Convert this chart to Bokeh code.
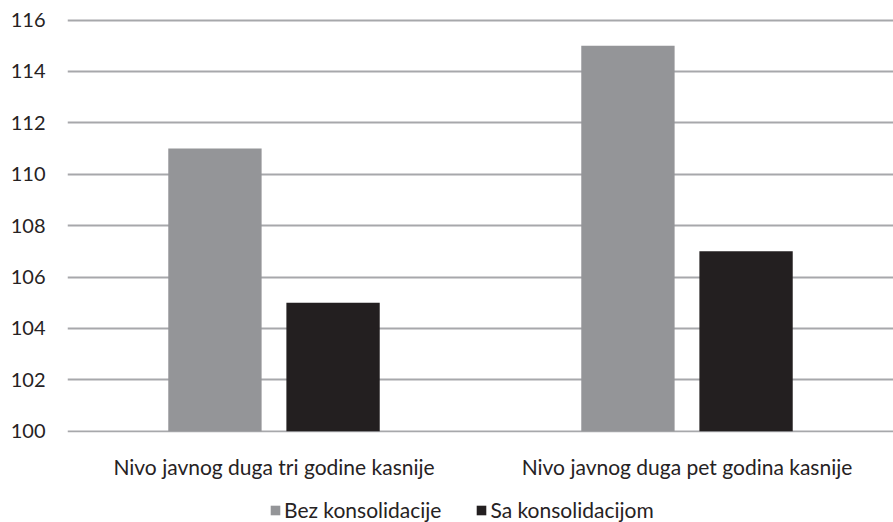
from bokeh.plotting import figure
from bokeh.models import FactorRange, Range1d, FixedTicker, Legend, LegendItem, ColumnDataSource
from bokeh.layouts import column
from bokeh.transform import dodge
from bokeh.embed import file_html
from bokeh.resources import INLINE

categories = ["Nivo javnog duga tri godine kasnije", "Nivo javnog duga pet godina kasnije"]
series_names = ["Bez konsolidacije", "Sa konsolidacijom"]
bez = [111, 115]
sa = [105, 107]
y_ticks = [100, 102, 104, 106, 108, 110, 112, 114, 116]

FONT = "Lato"
TEXT = "#262223"
GRID = "#a7a8ab"
GRAY = "#949598"
BLACK = "#231f20"

src = ColumnDataSource(dict(cat=categories, bez=bez, sa=sa))

p = figure(frame_width=826, frame_height=414, x_range=FactorRange(*categories),
           y_range=Range1d(99.95, 116.06), output_backend="svg",
           toolbar_location=None, min_border_left=67, min_border_right=0,
           min_border_top=18, min_border_bottom=50)
p.outline_line_color = None
p.background_fill_color = "white"
p.border_fill_color = "white"

p.vbar(x=dodge("cat", -0.143, range=p.x_range), top="bez", bottom=100, width=0.226,
       source=src, fill_color=GRAY, line_color=None)
p.vbar(x=dodge("cat", 0.143, range=p.x_range), top="sa", bottom=100, width=0.226,
       source=src, fill_color=BLACK, line_color=None)

p.yaxis.ticker = FixedTicker(ticks=y_ticks)
p.ygrid.ticker = FixedTicker(ticks=y_ticks)
p.ygrid.grid_line_color = GRID
p.ygrid.grid_line_width = 2
p.xgrid.grid_line_color = None

for ax in (p.xaxis, p.yaxis):
    ax.axis_line_color = None
    ax.major_tick_line_color = None
    ax.minor_tick_line_color = None
    ax.major_tick_out = 0
    ax.major_tick_in = 0
    ax.major_label_text_font = FONT
    ax.major_label_text_color = TEXT

p.yaxis.major_label_text_font_size = "20px"
p.xaxis.major_label_text_font_size = "21px"
p.yaxis.major_label_standoff = 22
p.xaxis.major_label_standoff = 21

# legend strip below the chart (legend proxies lie outside its visible range)
lg = figure(width=893, height=40, x_axis_type=None, y_axis_type=None,
            x_range=Range1d(0, 1), y_range=Range1d(0, 1), output_backend="svg",
            toolbar_location=None, min_border=0)
lg.outline_line_color = None
lg.xgrid.visible = False
lg.ygrid.visible = False
g1 = lg.vbar(x=[-5], top=[-5], bottom=-6, width=0.1, fill_color=GRAY, line_color=None)
g2 = lg.vbar(x=[-5], top=[-5], bottom=-6, width=0.1, fill_color=BLACK, line_color=None)

legend = Legend(items=[LegendItem(label=series_names[0], renderers=[g1]),
                       LegendItem(label=series_names[1], renderers=[g2])],
                orientation="horizontal", location=(202, 0),
                label_text_font=FONT, label_text_font_size="21px",
                label_text_color=TEXT, glyph_width=12, glyph_height=12,
                spacing=34, label_standoff=3, padding=0, margin=0,
                border_line_color=None, background_fill_alpha=0)
lg.add_layout(legend, "center")

layout = column(p, lg, spacing=0)
open("out.html", "w").write(file_html(layout, INLINE))
